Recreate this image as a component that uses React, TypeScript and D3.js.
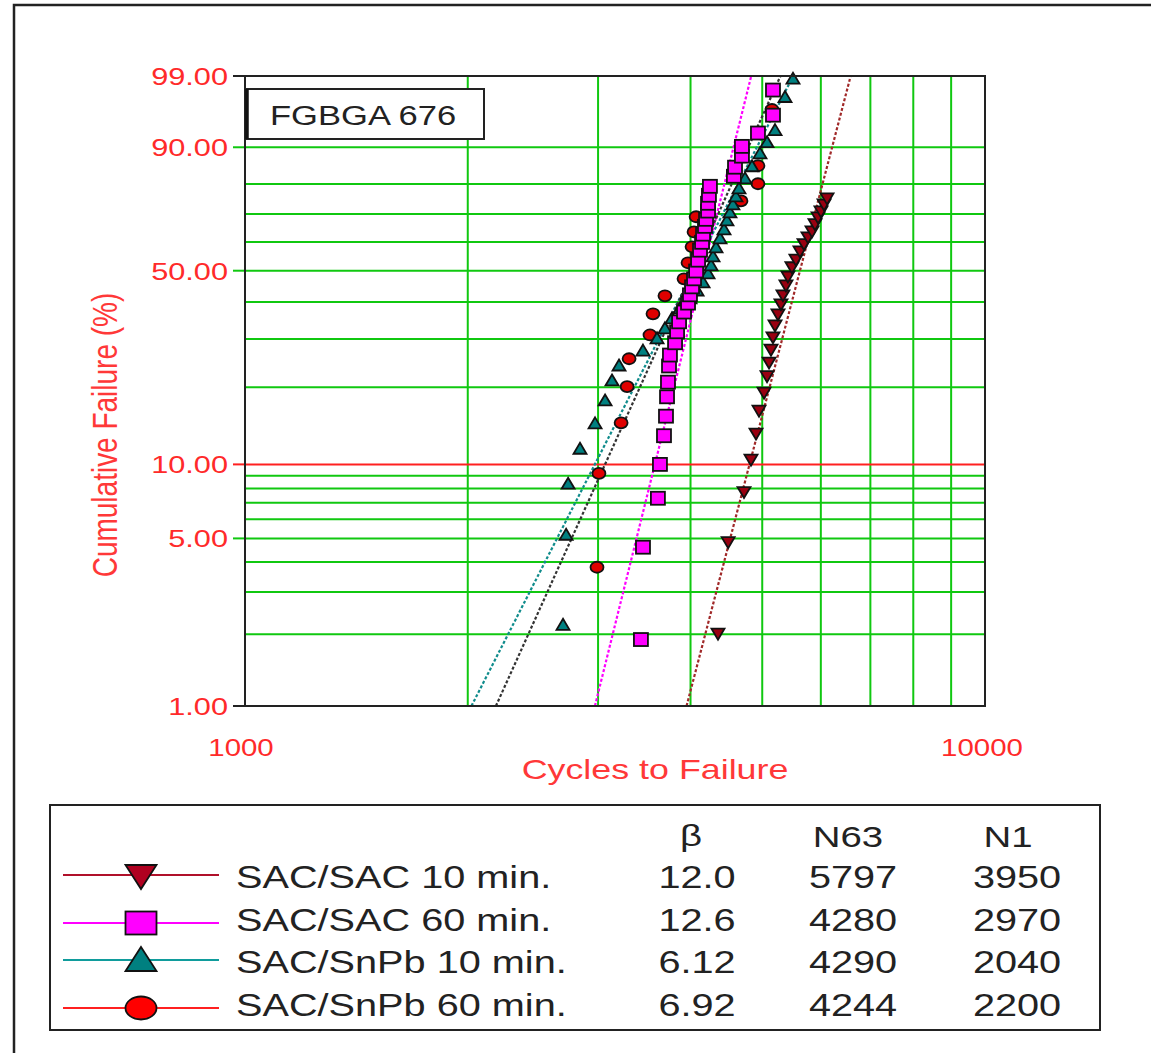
import React from 'react';
import * as d3 from 'd3';

// failure data: [cycles, cumulative failure %]
const sacSac10 = [
  [4357, 2.0], [4497, 4.8], [4724, 7.7], [4828, 10.4], [4904, 13.2], [4950, 16.2],
  [5028, 19.0], [5075, 21.9], [5107, 24.6], [5138, 27.4], [5170, 30.3], [5203, 33.3],
  [5251, 36.3], [5300, 39.2], [5333, 41.9], [5383, 45.0], [5416, 47.9], [5484, 51.0],
  [5553, 53.6], [5623, 56.5], [5694, 59.1], [5765, 61.5], [5838, 63.6], [5892, 66.2],
  [5948, 68.6], [6003, 70.7], [6060, 73.1], [6117, 75.2],
];
const sacSac60 = [
  [3428, 1.9], [3450, 4.6], [3614, 7.3], [3637, 10.0], [3683, 13.0], [3706, 15.5],
  [3718, 18.4], [3729, 20.9], [3741, 24.0], [3752, 26.3], [3812, 29.1], [3836, 31.8],
  [3860, 34.4], [3920, 37.1], [3969, 39.7], [3993, 42.2], [4019, 44.7], [4044, 47.3],
  [4070, 49.9], [4095, 53.6], [4120, 57.1], [4146, 59.9], [4159, 62.8], [4184, 65.6],
  [4198, 68.1], [4224, 71.0], [4224, 73.7], [4236, 76.4], [4249, 79.3], [4578, 82.4],
  [4594, 85.0], [4694, 87.9], [4694, 90.2], [4934, 92.9], [5170, 95.7], [5170, 98.2],
];
const sacSnPb10 = [
  [2690, 2.2], [2716, 5.2], [2733, 8.4], [2836, 11.6], [2972, 14.6], [3066, 17.9],
  [3133, 21.3], [3202, 24.2], [3450, 27.4], [3604, 30.3], [3694, 32.8], [3776, 35.5],
  [3871, 38.3], [3993, 41.3], [4082, 43.7], [4159, 46.3], [4224, 49.3], [4264, 52.0],
  [4290, 55.1], [4330, 58.3], [4384, 61.5], [4439, 64.7], [4480, 67.9], [4522, 70.7],
  [4564, 73.5], [4607, 76.2], [4651, 78.8], [4739, 81.9], [4843, 85.4], [4965, 88.7],
  [5075, 91.2], [5203, 93.5], [5367, 97.7], [5502, 98.9],
];
const sacSnPb60 = [
  [2990, 3.8], [3008, 9.2], [3223, 14.6], [3284, 20.1], [3304, 25.5], [3526, 31.0],
  [3559, 36.6], [3694, 41.9], [3920, 47.3], [3969, 52.7], [4019, 58.3], [4044, 63.6],
  [4070, 69.0], [4680, 74.5], [4934, 80.1], [4934, 85.4], [5154, 96.4],
];

const seriesNames = ['SAC/SAC 10 min.', 'SAC/SAC 60 min.', 'SAC/SnPb 10 min.', 'SAC/SnPb 60 min.'];
const betas = ['12.0', '12.6', '6.12', '6.92'];
const n63s = ['5797', '4280', '4290', '4244'];
const n1s = ['3950', '2970', '2040', '2200'];

const yTicks = [1, 5, 10, 50, 90, 99];
const yGrid = [2, 3, 4, 5, 6, 7, 8, 9, 20, 30, 40, 50, 60, 70, 80, 90];
const xGrid = [2000, 3000, 4000, 5000, 6000, 7000, 8000, 9000];

const FONT = 'Liberation Sans, Arial, Helvetica, sans-serif';
const SX = 1.28; // the source image is stretched horizontally

const wb = (p: number) => Math.log(-Math.log(1 - p / 100));

const x = d3.scaleLog().domain([1000, 10000]).range([245, 985]);
const y = d3.scaleLinear().domain([wb(1), wb(99)]).range([706, 76]);

const series = [
  { data: sacSac10, beta: +betas[0], eta: +n63s[0], shape: 'down', fill: '#990011', fit: '#a02828', leg: '#b0102a' },
  { data: sacSac60, beta: +betas[1], eta: +n63s[1], shape: 'square', fill: '#ff00ff', fit: '#ff00ff', leg: '#ff00ff' },
  { data: sacSnPb10, beta: +betas[2], eta: +n63s[2], shape: 'up', fill: '#008080', fit: '#108c8c', leg: '#109c9c' },
  { data: sacSnPb60, beta: +betas[3], eta: +n63s[3], shape: 'circle', fill: '#e00000', fit: '#333333', leg: '#ff2020' },
];

const T = ({ x, y, size, fill = '#222', anchor = 'start', sx = SX, rot = 0, children }: any) => (
  <text
    transform={`translate(${x},${y}) scale(${sx},1)${rot ? ` rotate(${rot})` : ''}`}
    fontSize={size}
    fontFamily={FONT}
    fill={fill}
    textAnchor={anchor}
  >
    {children}
  </text>
);

const Marker = ({ shape, cx, cy, w, h, fill }: any) => {
  const s = { fill, stroke: '#111', strokeWidth: 1.8 };
  if (shape === 'square') return <rect x={cx - w / 2} y={cy - h / 2} width={w} height={h} {...s} />;
  if (shape === 'circle') return <ellipse cx={cx} cy={cy} rx={w / 2} ry={h / 2} {...s} />;
  if (shape === 'up')
    return <path d={`M${cx},${cy - h / 2}L${cx + w / 2},${cy + h / 2}L${cx - w / 2},${cy + h / 2}Z`} {...s} />;
  return <path d={`M${cx - w / 2},${cy - h / 2}L${cx + w / 2},${cy - h / 2}L${cx},${cy + h / 2}Z`} {...s} />;
};

export default function App() {
  return (
    <svg width={1151} height={1053} style={{ position: 'absolute', left: 0, top: 0, background: '#fff' }}>
      {/* outer frame */}
      <path d="M14,1060 L14,5 L1160,5" fill="none" stroke="#222" strokeWidth={2.5} />

      <defs>
        <clipPath id="plot">
          <rect x={245} y={76} width={740} height={630} />
        </clipPath>
      </defs>

      {/* grid */}
      {xGrid.map(v => (
        <line key={'x' + v} x1={x(v)} x2={x(v)} y1={76} y2={706} stroke="#10c810" strokeWidth={2} />
      ))}
      {yGrid.map(v => (
        <line key={'y' + v} x1={245} x2={985} y1={y(wb(v))} y2={y(wb(v))} stroke="#10c810" strokeWidth={2} />
      ))}
      <line x1={245} x2={985} y1={y(wb(10))} y2={y(wb(10))} stroke="#ff2020" strokeWidth={2} />

      {/* y ticks */}
      {yTicks.map(v => (
        <g key={'t' + v}>
          <line x1={233} x2={245} y1={y(wb(v))} y2={y(wb(v))} stroke={v === 10 ? '#ff2020' : v === 90 || v === 50 || v === 5 ? '#10c810' : '#222'} strokeWidth={2} />
          <T x={228} y={y(wb(v)) + 9} size={24} fill="#ff2a2a" anchor="end">{v.toFixed(2)}</T>
        </g>
      ))}

      {/* fitted Weibull lines */}
      <g clipPath="url(#plot)">
        {series.map((s, i) => {
          const n = (p: number) => s.eta * Math.pow(-Math.log(1 - p / 100), 1 / s.beta);
          return (
            <line
              key={'f' + i}
              x1={x(n(1))}
              y1={y(wb(1))}
              x2={x(n(99))}
              y2={y(wb(99))}
              stroke={s.fit}
              strokeWidth={2.2}
              strokeDasharray="3 2"
            />
          );
        })}
      </g>

      {/* data points */}
      {[3, 2, 1, 0].map(i => {
        const s = series[i];
        const w = s.shape === 'square' ? 14 : 13;
        const h = s.shape === 'square' ? 13 : 11;
        return (
          <g key={'s' + i}>
            {s.data.map((d, j) => (
              <Marker key={j} shape={s.shape} cx={x(d[0])} cy={y(wb(d[1]))} w={w} h={h} fill={s.fill} />
            ))}
          </g>
        );
      })}

      {/* plot border */}
      <rect x={245} y={76} width={740} height={630} fill="none" stroke="#222" strokeWidth={2} />

      {/* title box */}
      <rect x={247} y={89} width={237} height={50} fill="#fff" stroke="#222" strokeWidth={2} />
      <line x1={247} x2={247} y1={89} y2={139} stroke="#111" strokeWidth={3.5} />
      <T x={270} y={125} size={27}>FGBGA 676</T>

      {/* axis labels */}
      <T x={241} y={756} size={23} fill="#ff2a2a" anchor="middle">1000</T>
      <T x={982} y={756} size={23} fill="#ff2a2a" anchor="middle">10000</T>
      <T x={655} y={779} size={28} fill="#ff3838" anchor="middle">Cycles to Failure</T>
      <T x={117} y={435} size={28} fill="#ff3838" anchor="middle" rot={-90}>Cumulative Failure (%)</T>

      {/* legend */}
      <rect x={50} y={805} width={1050} height={225} fill="#fff" stroke="#222" strokeWidth={2} />
      <T x={691} y={846} size={30} anchor="middle">β</T>
      <T x={848} y={847} size={30} anchor="middle">N63</T>
      <T x={1008} y={847} size={30} anchor="middle">N1</T>
      {series.map((s, i) => {
        const ly = [875, 923, 960, 1008][i];
        const ty = [888, 931, 973, 1016][i];
        return (
          <g key={'l' + i}>
            <line x1={63} x2={219} y1={ly} y2={ly} stroke={s.leg} strokeWidth={2} />
            <Marker shape={s.shape} cx={141} cy={ly + (s.shape === 'down' ? 2 : s.shape === 'up' ? -1 : 0)} w={31} h={s.shape === 'up' || s.shape === 'down' ? 24 : 23} fill={s.shape === 'down' ? '#b00020' : s.shape === 'circle' ? '#ff0000' : s.fill} />
            <T x={236} y={ty} size={31}>{seriesNames[i]}</T>
            <T x={697} y={ty} size={31} anchor="middle">{betas[i]}</T>
            <T x={853} y={ty} size={31} anchor="middle">{n63s[i]}</T>
            <T x={1017} y={ty} size={31} anchor="middle">{n1s[i]}</T>
          </g>
        );
      })}
    </svg>
  );
}
